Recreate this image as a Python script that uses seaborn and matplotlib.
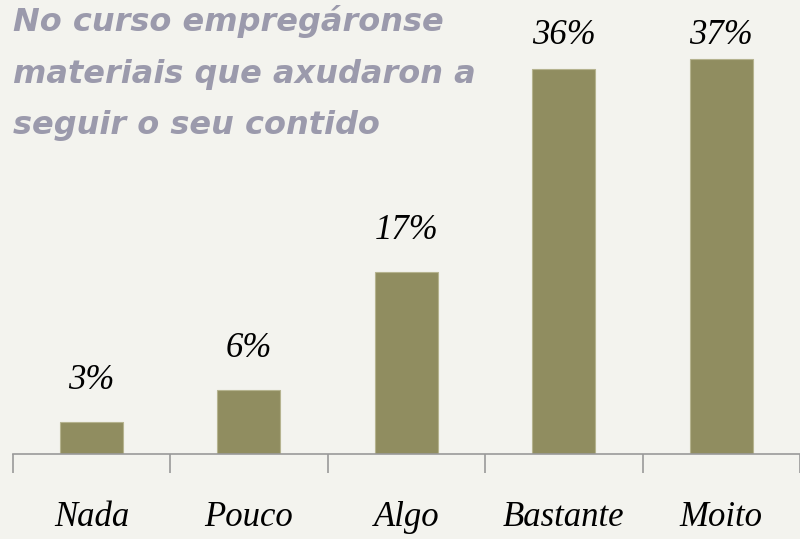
import numpy as np
import pandas as pd
import seaborn as sns
import matplotlib.pyplot as plt

# --- data ---
categories = ["Nada", "Pouco", "Algo", "Bastante", "Moito"]
values = [3, 6, 17, 36, 37]
labels = ["3%", "6%", "17%", "36%", "37%"]
title = "No curso empregáronse\nmateriais que axudaron a\nseguir o seu contido"

df = pd.DataFrame({"cat": categories, "val": values})

bg = "#f3f3ee"
bar_col = "#908d60"

sns.set_theme(style="white")
plt.rcParams['font.family'] = ['DejaVu Sans']

fig = plt.figure(figsize=(8, 5.39), dpi=100, facecolor=bg)
ax = fig.add_axes([0.016, 0.158, 0.984, 0.842])
ax.set_facecolor(bg)

sns.barplot(data=df, x="cat", y="val", color=bar_col, width=0.4,
            saturation=1, edgecolor="#b5b38f", linewidth=0.8, ax=ax)

ax.set_xlim(-0.5, 4.47)
ax.set_ylim(0, 42.5)

# value labels above bars (capped near the top)
for i, (v, lab) in enumerate(zip(values, labels)):
    ax.text(i, min(v + 3.9, 39.2), lab, ha="center", va="center",
            fontsize=25, style="italic", family="Liberation Serif", color="black")

# axis: baseline with ticks between categories
for s in ["top", "right", "left"]:
    ax.spines[s].set_visible(False)
ax.spines["bottom"].set_color("#999999")
ax.spines["bottom"].set_linewidth(1.2)
ax.set_yticks([])
ax.set_xticks(np.arange(-0.5, 5, 1), minor=True)
ax.tick_params(axis="x", which="minor", length=14, width=1.2, color="#999999",
               direction="out", bottom=True)
ax.tick_params(axis="x", which="major", length=0, pad=34, labelcolor="black")
ax.set_xticks(range(len(categories)))
ax.set_xticklabels(categories, fontsize=25, style="italic", family="Liberation Serif")
ax.set_xlabel("")
ax.set_ylabel("")

fig.text(0.016, 0.99, title, ha="left", va="top", fontsize=23,
         fontweight="heavy", style="italic", color="#9b9aac",
         linespacing=1.85)

fig.savefig("out.png", dpi=100, facecolor=bg)
